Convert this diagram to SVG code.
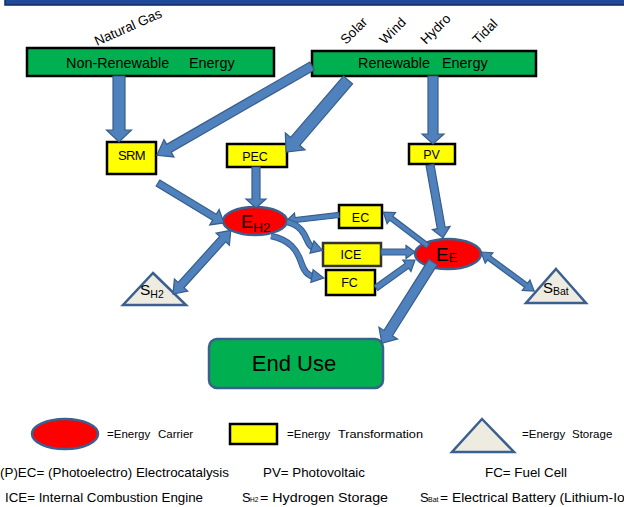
<svg xmlns="http://www.w3.org/2000/svg" width="624" height="507" viewBox="0 0 624 507">
<style>
.t{font-family:"Liberation Sans",Arial,sans-serif;fill:#000}
.green{fill:#00b050;stroke:#000;stroke-width:2.5}
.yel{fill:#ffff00;stroke:#000;stroke-width:2.5}
.carrier{fill:#ff0000;stroke:#3b5f8f;stroke-width:2.5}
.store{fill:#eeece1;stroke:#3b5f8f;stroke-width:2.5;stroke-linejoin:miter}
.arr{fill:#4f81bd;stroke:#385d8a;stroke-width:1.2;stroke-linejoin:miter}
.cv1{fill:none;stroke:#385d8a;stroke-width:6.5}
.cv2{fill:none;stroke:#4f81bd;stroke-width:4.5}
</style>
<rect width="624" height="507" fill="#fff"/>
<rect x="5" y="-3" width="622" height="8" fill="#1f4a9a" stroke="#0f2a66" stroke-width="1.5"/>

<g id="nonrenewable">
<rect class="green" x="27" y="48" width="247" height="28"/>
<text class="t" x="66" y="68" font-size="14.4">Non-Renewable</text>
<text class="t" x="189" y="68" font-size="14.4">Energy</text>
<text class="t" font-size="13.5" transform="translate(97,46) rotate(-24)">Natural Gas</text>
</g>
<g id="renewable">
<rect class="green" x="312" y="51" width="224" height="25"/>
<text class="t" x="358" y="68" font-size="14.4">Renewable</text>
<text class="t" x="442" y="68" font-size="14.4">Energy</text>
<text class="t" font-size="13.5" transform="translate(346,45) rotate(-45)">Solar</text>
<text class="t" font-size="13.5" transform="translate(385,45) rotate(-45)">Wind</text>
<text class="t" font-size="13.5" transform="translate(426,45) rotate(-45)">Hydro</text>
<text class="t" font-size="13.5" transform="translate(478,45) rotate(-45)">Tidal</text>
</g>
<g id="srm">
<rect class="yel" x="107" y="142" width="49" height="32"/>
<text class="t" x="131.5" y="160" font-size="13" text-anchor="middle" letter-spacing="-0.6">SRM</text>
</g>
<g id="pec">
<rect class="yel" x="227" y="144" width="60" height="23"/>
<text class="t" x="255" y="161" font-size="12.5" text-anchor="middle">PEC</text>
</g>
<g id="pv">
<rect class="yel" x="409" y="144" width="46" height="20"/>
<text class="t" x="431.5" y="159" font-size="12.5" text-anchor="middle">PV</text>
</g>
<g id="eh2">
<ellipse class="carrier" cx="255" cy="221" rx="32" ry="14"/>
<text class="t" x="241" y="228" font-size="18.5">E<tspan font-size="13.5" dy="4">H2</tspan></text>
</g>
<g id="ec">
<rect class="yel" x="339" y="205" width="43" height="23"/>
<text class="t" x="360.5" y="222" font-size="12.5" text-anchor="middle">EC</text>
</g>
<g id="ice">
<rect class="yel" x="323" y="243" width="58" height="23" style="stroke:#333"/>
<text class="t" x="351" y="259" font-size="12.5" text-anchor="middle">ICE</text>
</g>
<g id="fc">
<rect class="yel" x="326" y="270" width="49" height="25"/>
<text class="t" x="349.5" y="287" font-size="12.5" text-anchor="middle">FC</text>
</g>
<g id="ee">
<ellipse class="carrier" cx="448" cy="254" rx="33" ry="15"/>
<text class="t" x="436" y="261" font-size="19">E<tspan font-size="12.5" dy="1">E</tspan></text>
</g>
<g id="sh2">
<polygon class="store" points="153,273 186,305 123,305"/>
<text class="t" x="140" y="295" font-size="15.5">S<tspan font-size="10.5" dy="3">H2</tspan></text>
</g>
<g id="sbat">
<polygon class="store" points="556,269 586,303 526,303"/>
<text class="t" x="543" y="293" font-size="15">S<tspan font-size="10.5" dy="2">Bat</tspan></text>
</g>
<g id="enduse">
<rect x="209" y="339" width="174" height="49" rx="8" fill="#00b050" stroke="#3b5f8f" stroke-width="2.5"/>
<text class="t" x="294" y="371" font-size="22" text-anchor="middle">End Use</text>
</g>

<g id="connectors">
<polygon class="arr" transform="translate(119,76) rotate(90)" points="0,-6 54,-6 54,-12.5 66,0 54,12.5 54,6 0,6"/>
<polygon class="arr" transform="translate(312,66) rotate(150.1)" points="0,-4.5 165,-4.5 165,-10 179,0 165,10 165,4.5 0,4.5"/>
<polygon class="arr" transform="translate(348,80) rotate(130.7)" points="0,-6 81,-6 81,-13 95,0 81,13 81,6 0,6"/>
<polygon class="arr" transform="translate(433,76) rotate(90)" points="0,-5 58,-5 58,-11 68,0 58,11 58,5 0,5"/>
<polygon class="arr" transform="translate(256,167) rotate(90)" points="0,-4 32,-4 32,-10 41,0 32,10 32,4 0,4"/>
<polygon class="arr" transform="translate(158,183) rotate(31.2)" points="0,-3.5 66,-3.5 66,-9 77,0 66,9 66,3.5 0,3.5"/>
<polygon class="arr" transform="translate(173,294) rotate(-47.8)" points="0,0 12,-9 12,-4 74,-4 74,-9 86,0 74,9 74,4 12,4 12,9"/>
<polygon class="arr" transform="translate(339,215) rotate(173.5)" points="0,-2.5 44,-2.5 44,-7 53,0 44,7 44,2.5 0,2.5"/>
<path class="cv1" d="M287,222 C300,225 304,233 307,240 C309,245 311,247 314,248"/>
<path class="cv2" d="M287,222 C300,225 304,233 307,240 C309,245 311,247 314,248"/>
<polygon class="arr" transform="translate(312,247) rotate(18)" points="0,-6.5 11,0 0,6.5"/>
<path class="cv1" d="M271,236 C290,240 297,250 301,262 C304,271 307,275 314,277"/>
<path class="cv2" d="M271,236 C290,240 297,250 301,262 C304,271 307,275 314,277"/>
<polygon class="arr" transform="translate(312,276) rotate(10)" points="0,-6.5 12,0 0,6.5"/>
<polygon class="arr" transform="translate(381,252) rotate(0)" points="0,-3 25,-3 25,-6.5 34,0 25,6.5 25,3 0,3"/>
<polygon class="arr" transform="translate(376,288) rotate(-35.7)" points="0,-3 38,-3 38,-7 48,0 38,7 38,3 0,3"/>
<polygon class="arr" transform="translate(428,246) rotate(-142.9)" points="0,-2.5 46,-2.5 46,-7 56,0 46,7 46,2.5 0,2.5"/>
<polygon class="arr" transform="translate(430,165) rotate(79.9)" points="0,-4 64,-4 64,-9 74,0 64,9 64,4 0,4"/>
<polygon class="arr" transform="translate(481,252) rotate(36.3)" points="0,0 10,-6.5 10,-2.5 56,-2.5 56,-6.5 66,0 56,6.5 56,2.5 10,2.5 10,6.5"/>
<polygon class="arr" transform="translate(433,262) rotate(122.2)" points="0,-5 84,-5 84,-11 96,0 84,11 84,5 0,5"/>
</g>

<g id="legend">
<ellipse class="carrier" cx="65" cy="434" rx="33" ry="15"/>
<text class="t" x="107" y="438" font-size="11.5">=Energy</text>
<text class="t" x="158" y="438" font-size="11.5">Carrier</text>
<rect class="yel" x="230" y="424" width="47" height="20"/>
<text class="t" x="287" y="438" font-size="11.5">=Energy</text>
<text class="t" x="338" y="438" font-size="11.5" textLength="85" lengthAdjust="spacingAndGlyphs">Transformation</text>
<polygon class="store" points="482,419 514,452 452,452"/>
<text class="t" x="522" y="438" font-size="11.5">=Energy</text>
<text class="t" x="572" y="438" font-size="11.5">Storage</text>
<text class="t" x="0" y="477" font-size="13" textLength="229" lengthAdjust="spacingAndGlyphs">(P)EC= (Photoelectro) Electrocatalysis</text>
<text class="t" x="263" y="477" font-size="13" textLength="102" lengthAdjust="spacingAndGlyphs">PV= Photovoltaic</text>
<text class="t" x="485" y="477" font-size="13" textLength="82" lengthAdjust="spacingAndGlyphs">FC= Fuel Cell</text>
<text class="t" x="5" y="502" font-size="13" textLength="198" lengthAdjust="spacingAndGlyphs">ICE= Internal Combustion Engine</text>
<text class="t" x="242" y="502" font-size="13">S</text>
<text class="t" x="250" y="502" font-size="6.5">H2</text>
<text class="t" x="260" y="502" font-size="13" textLength="128" lengthAdjust="spacingAndGlyphs">= Hydrogen Storage</text>
<text class="t" x="420" y="502" font-size="13">S</text>
<text class="t" x="428" y="502" font-size="7">Bat</text>
<text class="t" x="440" y="502" font-size="13" textLength="197" lengthAdjust="spacingAndGlyphs">= Electrical Battery (Lithium-Ion)</text>
</g>
</svg>
